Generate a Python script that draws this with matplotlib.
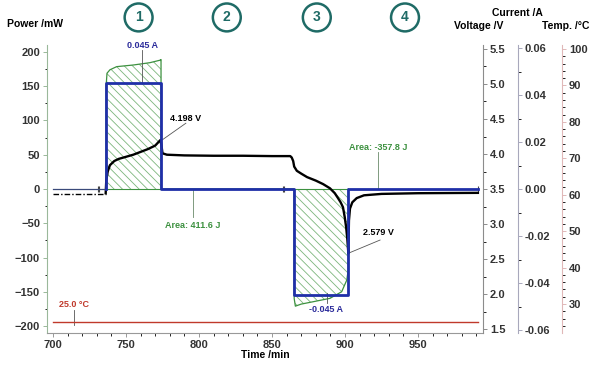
import numpy as np
import matplotlib.pyplot as plt
from matplotlib.ticker import MultipleLocator

plt.rcParams['font.family'] = ['Liberation Sans', 'DejaVu Sans']
plt.rcParams['font.weight'] = 'bold'
plt.rcParams['hatch.linewidth'] = 0.6

# Datos
t_reposo = [700, 736]
v_reposo = [3.43, 3.43]
i_reposo = [0.0, 0.0]

t_corriente = [736.1, 736.1, 774.0, 774.0, 865.2, 865.2, 902.3, 902.3, 991]
corriente = [0.0, 0.045, 0.045, 0.0, 0.0, -0.045, -0.045, 0.0, 0.0]

t_voltaje = [736.1, 736.5, 737.5, 739, 742, 745, 750, 755, 760, 765, 770, 773.5, 774.0,
             775, 778, 790, 810, 830, 850, 862.5, 863.5, 864.5, 865.2, 867, 870, 874,
             880, 885, 889.7, 893, 895.2, 897, 898.6, 899.8, 900.8, 901.6, 902.3,
             902.7, 903.4, 905, 908, 913, 925, 950, 991]
voltaje = [3.44, 3.62, 3.75, 3.84, 3.90, 3.93, 3.96, 3.99, 4.03, 4.07, 4.12, 4.198, 4.17,
           4.01, 3.99, 3.98, 3.975, 3.975, 3.97, 3.97, 3.95, 3.90, 3.82, 3.76, 3.72, 3.67,
           3.62, 3.57, 3.51, 3.44, 3.37, 3.31, 3.24, 3.10, 2.95, 2.78, 2.579,
           3.05, 3.22, 3.31, 3.37, 3.41, 3.43, 3.44, 3.445]

t_potencia = [736.3, 736.4, 737, 739, 743.6, 755, 766.4, 773.3, 774.0, 774.05,
              865.1, 865.2, 866, 870, 878.3, 889.7, 897.7, 901.2, 902.2, 902.3]
potencia = [0, 150, 169, 174, 178.6, 181, 184.4, 188, 189, 0,
            0, -160, -171, -168, -164.5, -159.6, -150, -133, -118, 0]

t_temp = [700, 991]
temperatura = [25.0, 25.0]

t_cortes = [730.6, 731.8, 857.2, 858.4, 991]
circulos = ['1', '2', '3', '4']
x_circulos = [0.231, 0.378, 0.528, 0.675]

verde = '#3d9140'
azul = '#1f2fa8'
rojo = '#c0392b'
gris = '#333333'

fig = plt.figure(figsize=(6, 3.71), dpi=100)
ax = fig.add_axes([0.0783, 0.1024, 0.7267, 0.7763])
ax_v = ax.twinx()
ax_i = ax.twinx()
ax_t = ax.twinx()

# potencia
ax.fill_between(t_potencia, 0, potencia, facecolor='none', edgecolor='#7cb57c',
                hatch='\\\\\\\\', linewidth=0)
ax.plot(t_potencia, potencia, color=verde, lw=0.9)
ax.plot([736, 774], [0, 0], color=verde, lw=0.8)
ax.plot([865, 902], [0, 0], color=verde, lw=0.8)
ax.plot(t_cortes, [0] * len(t_cortes), ls='none', marker='|', ms=5, mew=0.8, color='#444444')

# voltaje
ax_v.plot(t_reposo, v_reposo, color='black', lw=1.0, ls=(0, (4, 1.5, 1, 1.5)))
ax_v.plot(t_voltaje, voltaje, color='black', lw=1.7)

# corriente
ax_i.plot(t_reposo, i_reposo, color='#3a4a7a', lw=0.9)
ax_i.plot(t_corriente, corriente, color=azul, lw=2.0)

# temperatura
ax_t.plot(t_temp, temperatura, color=rojo, lw=1.0)

ax.set_xlim(695.9, 994.5)
ax.set_ylim(-210.2, 210.2)
ax_v.set_ylim(1.443, 5.557)
ax_i.set_ylim(-0.06128, 0.06128)
ax_t.set_ylim(22.04, 101.1)

ax.xaxis.set_major_locator(MultipleLocator(50))
ax.xaxis.set_minor_locator(MultipleLocator(10))
ax.yaxis.set_major_locator(MultipleLocator(50))
ax.yaxis.set_minor_locator(MultipleLocator(25))
ax_v.yaxis.set_major_locator(MultipleLocator(0.5))
ax_v.yaxis.set_minor_locator(MultipleLocator(0.25))
ax_i.yaxis.set_major_locator(MultipleLocator(0.02))
ax_i.yaxis.set_minor_locator(MultipleLocator(0.01))
ax_i.yaxis.set_major_formatter(plt.FuncFormatter(lambda v, p: f'{v:.2f}'))
ax_v.yaxis.set_major_formatter(plt.FuncFormatter(lambda v, p: f'{v:.1f}'))
ax_t.yaxis.set_major_locator(MultipleLocator(10))
ax_t.yaxis.set_minor_locator(MultipleLocator(2))

for a in [ax, ax_v, ax_i, ax_t]:
    a.tick_params(which='major', length=3, width=0.7, labelsize=8, labelcolor=gris, pad=2)
    a.tick_params(which='minor', length=1.8, width=0.6)
    a.spines['top'].set_visible(False)
for a in [ax_v, ax_i, ax_t]:
    a.spines['left'].set_visible(False)
    a.spines['bottom'].set_visible(False)
ax.spines['right'].set_visible(False)
ax.spines['left'].set_color('#9ab89a')
ax.spines['bottom'].set_color('#999999')
ax.tick_params(axis='y', colors='#9ab89a', labelcolor=gris)
ax.tick_params(axis='x', colors='#999999', labelcolor=gris)

ax_i.spines['right'].set_position(('axes', 1 + 35 / 436))
ax_t.spines['right'].set_position(('axes', 1 + 79 / 436))
ax_v.spines['right'].set_color('#8c8c8c')
ax_i.spines['right'].set_color('#a8a8bc')
ax_t.spines['right'].set_color('#e0b8b8')
ax_v.tick_params(axis='y', colors='#8c8c8c', labelcolor=gris)
ax_i.tick_params(axis='y', colors='#a8a8bc', labelcolor=gris)
ax_t.tick_params(axis='y', colors='#e0b8b8', labelcolor=gris)

# etiquetas de ejes
fig.text(0.058, 0.935, 'Power /mW', ha='center', va='center', fontsize=7.5, color='black')
fig.text(0.863, 0.965, 'Current /A', ha='center', va='center', fontsize=7.5, color='black')
fig.text(0.798, 0.929, 'Voltage /V', ha='center', va='center', fontsize=7.5, color='black')
fig.text(0.942, 0.929, 'Temp. /°C', ha='center', va='center', fontsize=7.5, color='black')
fig.text(0.442, 0.043, 'Time /min', ha='center', va='center', fontsize=7.5, color='black')

# anotaciones
ax.text(761, 210, '0.045 A', color='#2b2b9b', fontsize=6.5, ha='center', va='center')
ax.plot([760.8, 760.8], [203, 155], color='#555555', lw=0.6)
ax.text(791, 103.6, '4.198 V', color='black', fontsize=6.5, ha='center', va='center')
ax.plot([791, 774.7], [96, 71.5], color='#555555', lw=0.6)
ax.text(796, -52.6, 'Area: 411.6 J', color=verde, fontsize=6.5, ha='center', va='center')
ax.plot([795.7, 795.7], [0, -41], color='#6a8a6a', lw=0.6)
ax.text(923, 61, 'Area: -357.8 J', color=verde, fontsize=6.5, ha='center', va='center')
ax.plot([922.6, 922.6], [54, 0], color='#6a8a6a', lw=0.6)
ax.text(922.6, -64, '2.579 V', color='black', fontsize=6.5, ha='center', va='center')
ax.plot([924, 902.7], [-74.5, -93.4], color='#555555', lw=0.6)
ax.text(887, -176.6, '-0.045 A', color='#2b2b9b', fontsize=6.5, ha='center', va='center')
ax.plot([887.7, 887.7], [-166, -152], color='#555555', lw=0.6)
ax.text(714.4, -168, '25.0 °C', color=rojo, fontsize=6.5, ha='center', va='center')
ax.plot([714.4, 714.4], [-176.6, -198.5], color='#555555', lw=0.6)

# circulos de fases
for etiqueta, xc in zip(circulos, x_circulos):
    fig.text(xc, 0.953, etiqueta, ha='center', va='center', fontsize=10, color='#1f6b66',
             bbox=dict(boxstyle='circle,pad=0.5', fc='white', ec='#1f6b66', lw=1.8))

fig.savefig('out.png', dpi=100)
